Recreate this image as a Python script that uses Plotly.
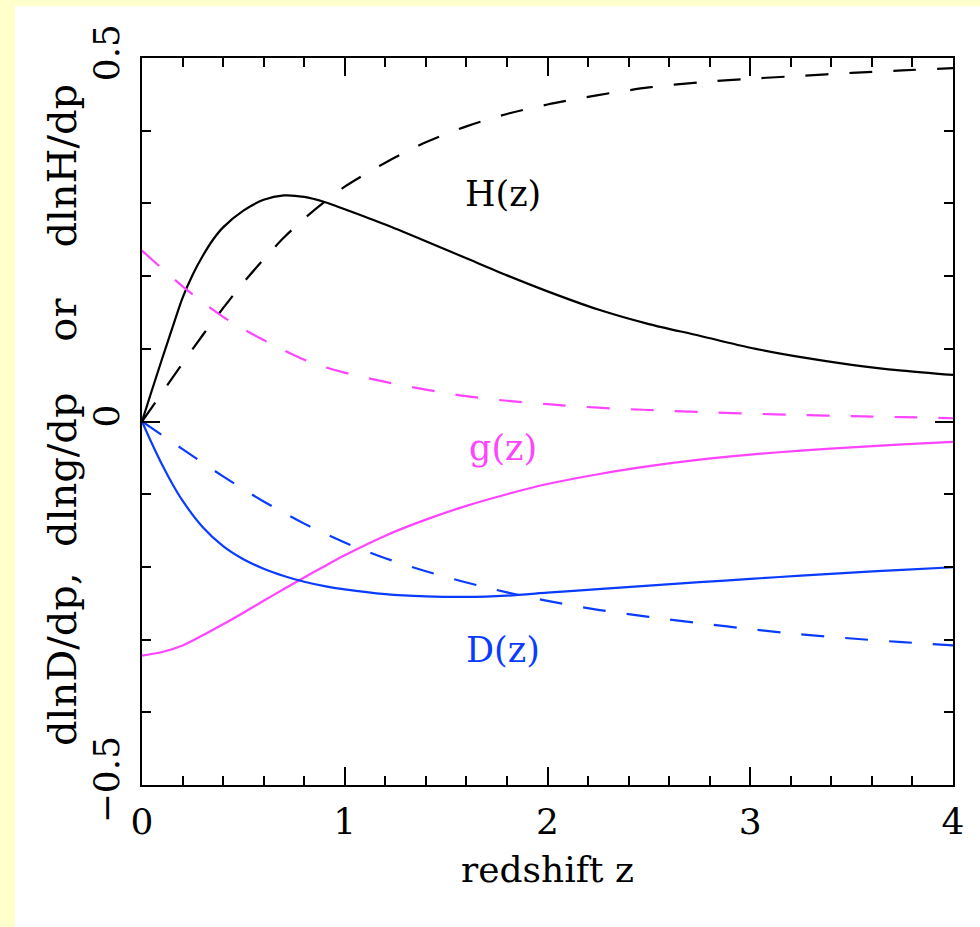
import plotly.graph_objects as go

# ---- data (dlnX/dp versus redshift z) ----
z_H_solid = [0, 0.05, 0.1, 0.15, 0.2, 0.25, 0.3, 0.35, 0.4, 0.5, 0.6, 0.7, 0.8, 0.9, 1.0, 1.2, 1.4, 1.6, 1.8, 2.0, 2.25, 2.5, 2.75, 3.0, 3.25, 3.5, 3.75, 4.0]
H_solid = [0, 0.044, 0.087, 0.129, 0.170, 0.202, 0.228, 0.250, 0.267, 0.29, 0.305, 0.311, 0.309, 0.302, 0.292, 0.271, 0.248, 0.2245, 0.201, 0.179, 0.154, 0.134, 0.118, 0.1015, 0.0885, 0.078, 0.070, 0.064]

z_H_dash = [0, 0.1, 0.2, 0.3, 0.4, 0.5, 0.6, 0.7, 0.8, 0.9, 1.0, 1.2, 1.4, 1.6, 1.8, 2.0, 2.25, 2.5, 2.75, 3.0, 3.25, 3.5, 3.75, 4.0]
H_dash = [0, 0.040, 0.080, 0.119, 0.156, 0.191, 0.223, 0.253, 0.279, 0.302, 0.323, 0.356, 0.384, 0.406, 0.423, 0.436, 0.449, 0.4595, 0.4665, 0.4715, 0.4755, 0.4795, 0.483, 0.486]

z_g_dash = [0, 0.1, 0.2, 0.3, 0.4, 0.5, 0.6, 0.7, 0.8, 0.9, 1.0, 1.2, 1.4, 1.6, 1.8, 2.0, 2.25, 2.5, 2.75, 3.0, 3.25, 3.5, 3.75, 4.0]
g_dash = [0.235, 0.210, 0.186, 0.164, 0.144, 0.127, 0.112, 0.098, 0.085, 0.075, 0.0672, 0.0545, 0.0438, 0.0348, 0.0285, 0.0238, 0.019, 0.0158, 0.0131, 0.0108, 0.0089, 0.0074, 0.006, 0.0045]

z_g_solid = [0, 0.1, 0.2, 0.3, 0.4, 0.5, 0.6, 0.7, 0.8, 0.9, 1.0, 1.2, 1.4, 1.6, 1.8, 2.0, 2.25, 2.5, 2.75, 3.0, 3.25, 3.5, 3.75, 4.0]
g_solid = [-0.322, -0.317, -0.308, -0.294, -0.279, -0.263, -0.2465, -0.2305, -0.2145, -0.199, -0.184, -0.157, -0.135, -0.116, -0.100, -0.086, -0.0725, -0.0615, -0.0525, -0.0455, -0.040, -0.0355, -0.0315, -0.028]

z_D_solid = [0, 0.05, 0.1, 0.15, 0.2, 0.3, 0.4, 0.5, 0.6, 0.7, 0.8, 0.9, 1.0, 1.2, 1.4, 1.6, 1.8, 2.0, 2.25, 2.5, 2.75, 3.0, 3.25, 3.5, 3.75, 4.0]
D_solid = [0, -0.031, -0.060, -0.086, -0.109, -0.1455, -0.1715, -0.1895, -0.2025, -0.2125, -0.2205, -0.2265, -0.231, -0.2375, -0.2405, -0.2413, -0.2395, -0.2355, -0.2305, -0.2257, -0.221, -0.2165, -0.212, -0.2078, -0.204, -0.2005]

z_D_dash = [0, 0.2, 0.4, 0.6, 0.8, 1.0, 1.2, 1.4, 1.6, 1.8, 2.0, 2.25, 2.5, 2.75, 3.0, 3.25, 3.5, 3.75, 4.0]
D_dash = [0, -0.038, -0.0755, -0.110, -0.1405, -0.1665, -0.188, -0.206, -0.2215, -0.235, -0.2468, -0.259, -0.2688, -0.2775, -0.2855, -0.2928, -0.2985, -0.3035, -0.308]

x_tickvals = [0, 1, 2, 3, 4]
y_tickvals = [-0.5, 0, 0.5]
y_ticktext = ["\u22120.5", "0", "0.5"]

BLACK = "#000000"
MAGENTA = "#ff44ff"
BLUE = "#0a3cff"
YELLOW = "#ffffcc"
FONT = "DejaVu Serif"
DASH = "23px,21px"
LW = 2.2

fig = go.Figure()

def add(x, y, color, dash):
    fig.add_trace(go.Scatter(x=x, y=y, mode="lines",
                             line=dict(color=color, width=LW, dash=dash, shape="spline", smoothing=0.8),
                             hoverinfo="skip"))

add(z_H_solid, H_solid, BLACK, "solid")
add(z_H_dash, H_dash, BLACK, DASH)
add(z_g_dash, g_dash, MAGENTA, DASH)
add(z_g_solid, g_solid, MAGENTA, "solid")
add(z_D_solid, D_solid, BLUE, "solid")
add(z_D_dash, D_dash, BLUE, DASH)

L, R, T, B = 142, 27, 58, 142
W, H = 980, 927
pw, ph = W - L - R, H - T - B

# pale-yellow page strips at the left and top of the white panel
fig.add_shape(type="rect", xref="paper", yref="paper", layer="below",
              x0=-L / pw - 0.05, x1=(15 - L) / pw, y0=-B / ph - 0.05, y1=1 + T / ph + 0.05,
              fillcolor=YELLOW, line=dict(width=0))
fig.add_shape(type="rect", xref="paper", yref="paper", layer="below",
              x0=-L / pw - 0.05, x1=1 + R / pw + 0.05, y0=1 + (T - 6) / ph, y1=1 + T / ph + 0.05,
              fillcolor=YELLOW, line=dict(width=0))

axis_common = dict(showline=True, linewidth=2, linecolor="black", mirror="allticks",
                   ticks="inside", ticklen=18, tickwidth=2, tickcolor="black",
                   showgrid=False, zeroline=False,
                   tickfont=dict(family=FONT, size=36, color="black"))

fig.update_xaxes(range=[0, 4], tickvals=x_tickvals, ticklabelstandoff=4,
                 minor=dict(dtick=0.2, ticks="inside", ticklen=9, tickwidth=2, tickcolor="black", showgrid=False),
                 **axis_common)
fig.update_yaxes(range=[-0.5, 0.5], tickvals=y_tickvals, ticktext=y_ticktext, tickangle=-90,
                 ticklabelstandoff=7,
                 minor=dict(dtick=0.1, ticks="inside", ticklen=9, tickwidth=2, tickcolor="black", showgrid=False),
                 **axis_common)

# axis titles
fig.add_annotation(xref="paper", yref="paper", x=0.5, y=-(870 - (H - B)) / ph,
                   text="redshift z", showarrow=False, xanchor="center", yanchor="middle",
                   font=dict(family=FONT, size=36, color="black"))
fig.add_annotation(xref="paper", yref="paper", x=(62 - L) / pw, y=((H - B) - 415) / ph,
                   text="dlnD/dp,  dlng/dp    or    dlnH/dp", textangle=-90, showarrow=False,
                   xanchor="center", yanchor="middle",
                   font=dict(family=FONT, size=40, color="black"))

for txt, yv, col in [("H(z)", 0.313, BLACK), ("g(z)", -0.036, MAGENTA), ("D(z)", -0.314, BLUE)]:
    fig.add_annotation(x=1.78, y=yv, text=txt, showarrow=False,
                       font=dict(family=FONT, size=35, color=col), xanchor="center", yanchor="middle")

fig.update_layout(width=W, height=H, margin=dict(l=L, r=R, t=T, b=B, pad=0),
                  paper_bgcolor="white", plot_bgcolor="white", showlegend=False,
                  font=dict(family=FONT, size=36, color="black"))

fig.write_html("out.html", config={"displayModeBar": False},
               post_script="document.body.style.margin='0';document.body.style.overflow='hidden';")
